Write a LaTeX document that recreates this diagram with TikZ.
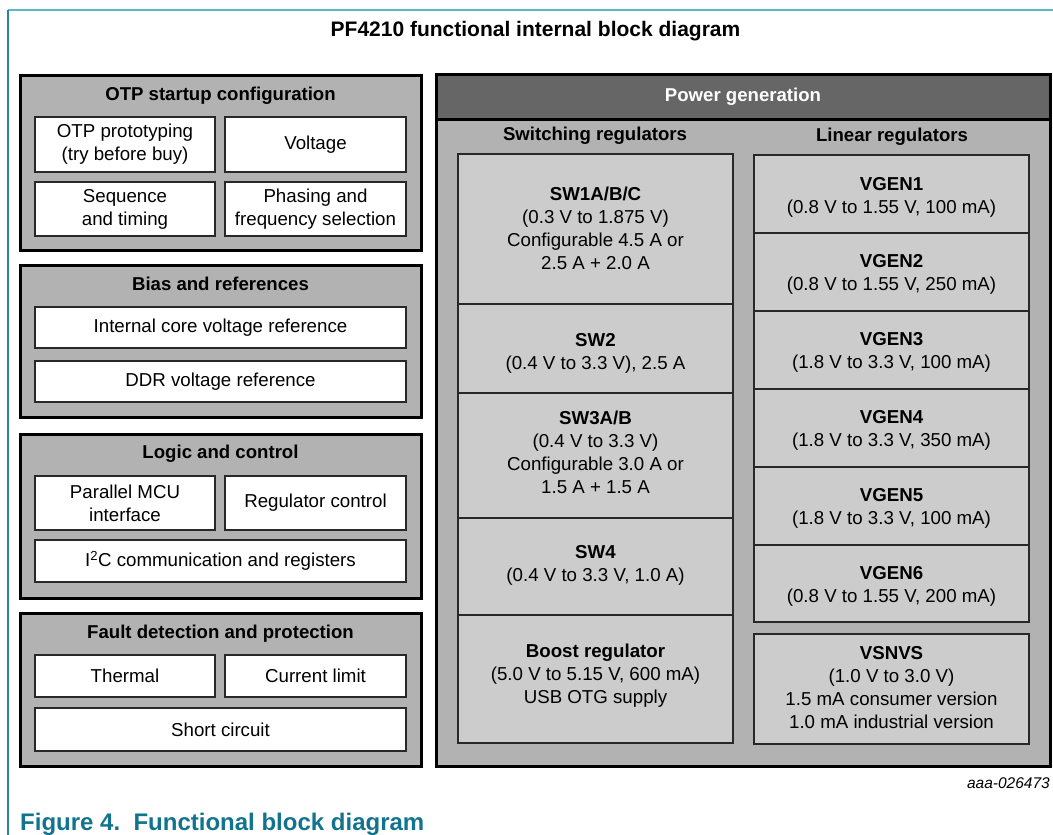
\documentclass[tikz,border=0pt]{standalone}
\usepackage{fontspec}
\setmainfont{Liberation Sans}
\definecolor{outergray}{RGB}{178,178,178}
\definecolor{innergray}{RGB}{204,204,204}
\definecolor{headgray}{RGB}{102,102,102}
\definecolor{edgegray}{RGB}{40,40,40}
\definecolor{tealtop}{RGB}{92,184,198}
\definecolor{tealleft}{RGB}{40,130,160}
\definecolor{captionteal}{RGB}{18,115,142}
\tikzset{
  txt/.style={font=\fontsize{18.7}{23}\selectfont, align=center, inner sep=0pt},
  ttl/.style={font=\fontsize{18.6}{23}\selectfont\bfseries, inner sep=0pt},
  grpbox/.style={draw=black, line width=3pt, fill=outergray, inner sep=0pt},
  wbox/.style={txt, draw=edgegray, line width=1.5pt, fill=white},
  gbox/.style={draw=edgegray, line width=1.5pt, fill=innergray, inner sep=0pt},
  headbox/.style={draw=black, line width=3pt, fill=headgray, inner sep=0pt,
    text=white, font=\fontsize{18.6}{23}\selectfont\bfseries},
}
\begin{document}
\begin{tikzpicture}[x=1pt,y=-1pt]
\useasboundingbox (0,0) rectangle (1053,835);
% frame lines
\coordinate (fc) at (8,10);
\coordinate (ftr) at (1053,10);
\coordinate (fbl) at (8,835);
\draw[tealtop, line width=1.2pt] (fc) -- (ftr);
\draw[tealleft, line width=1.2pt] (fc) -- (fbl);
\node[font=\fontsize{21}{25}\selectfont\bfseries, inner sep=0pt] (title) at (535.5,31) {PF4210 functional internal block diagram};

% OTP startup configuration
\node[grpbox, minimum width=401pt, minimum height=175pt] (otp) at (220.5,162.5) {};
\node[ttl] (otpt) at (220.5,96) {OTP startup configuration};
\node[wbox, minimum width=180pt, minimum height=55pt] (proto) at (125,144.5) {OTP prototyping\\(try before buy)};
\node[wbox, minimum width=181pt, minimum height=55pt] (volt) at (315.5,144.5) {Voltage};
\node[wbox, minimum width=180pt, minimum height=54pt] (seq) at (125,209) {Sequence\\and timing};
\node[wbox, minimum width=181pt, minimum height=54pt] (phase) at (315.5,209) {Phasing and\\frequency selection};

% Bias and references
\node[grpbox, minimum width=401pt, minimum height=152pt] (bias) at (220.5,341) {};
\node[ttl] (biast) at (220.5,284) {Bias and references};
\node[wbox, minimum width=371pt, minimum height=41pt] (icvr) at (220.5,327.5) {Internal core voltage reference};
\node[wbox, minimum width=371pt, minimum height=41pt] (ddr) at (220.5,381.5) {DDR voltage reference};

% Logic and control
\node[grpbox, minimum width=401pt, minimum height=164pt] (logic) at (220.5,516) {};
\node[ttl] (logict) at (220.5,453.5) {Logic and control};
\node[wbox, minimum width=180pt, minimum height=54pt] (pmcu) at (125,503) {Parallel MCU\\interface};
\node[wbox, minimum width=181pt, minimum height=54pt] (regc) at (315.5,503) {Regulator control};
\node[wbox, minimum width=371pt, minimum height=42pt] (i2c) at (220.5,561) {I\textsuperscript{2}C communication and registers};

% Fault detection and protection
\node[grpbox, minimum width=401pt, minimum height=153pt] (fault) at (220.5,689.5) {};
\node[ttl] (faultt) at (220.5,633.5) {Fault detection and protection};
\node[wbox, minimum width=180pt, minimum height=42pt] (therm) at (125,676) {Thermal};
\node[wbox, minimum width=181pt, minimum height=42pt] (curl) at (315.5,676) {Current limit};
\node[wbox, minimum width=371pt, minimum height=43pt] (short) at (220.5,729.5) {Short circuit};

% Power generation
\node[grpbox, minimum width=614pt, minimum height=692pt] (power) at (743,420) {};
\node[headbox, minimum width=614pt, minimum height=45pt] (powerh) at (743,96.5) {Power generation};
\node[ttl] (swt) at (595,135.5) {Switching regulators};
\node[ttl] (lint) at (892,136.5) {Linear regulators};

% switching regulators
\node[gbox, minimum width=275pt, minimum height=150pt] (sw1) at (595.5,229) {};
\node[gbox, minimum width=275pt, minimum height=89pt] (sw2) at (595.5,348.5) {};
\node[gbox, minimum width=275pt, minimum height=125pt] (sw3) at (595.5,455.5) {};
\node[gbox, minimum width=275pt, minimum height=97pt] (sw4) at (595.5,566.5) {};
\node[gbox, minimum width=275pt, minimum height=128pt] (boost) at (595.5,679) {};
\node[txt] (sw1t) at (595.5,228) {\textbf{SW1A/B/C}\\(0.3 V to 1.875 V)\\Configurable 4.5 A or\\2.5 A + 2.0 A};
\node[txt] (sw2t) at (595.5,353.5) {\textbf{SW2}\\(0.4 V to 3.3 V), 2.5 A};
\node[txt] (sw3t) at (595.5,452.5) {\textbf{SW3A/B}\\(0.4 V to 3.3 V)\\Configurable 3.0 A or\\1.5 A + 1.5 A};
\node[txt] (sw4t) at (595.5,565) {\textbf{SW4}\\(0.4 V to 3.3 V, 1.0 A)};
\node[txt] (boostt) at (595.5,676) {\textbf{Boost regulator}\\(5.0 V to 5.15 V, 600 mA)\\USB OTG supply};

% linear regulators
\node[gbox, minimum width=275pt, minimum height=78pt] (vg1) at (891.5,194) {};
\node[gbox, minimum width=275pt, minimum height=78pt] (vg2) at (891.5,272) {};
\node[gbox, minimum width=275pt, minimum height=78pt] (vg3) at (891.5,350) {};
\node[gbox, minimum width=275pt, minimum height=78pt] (vg4) at (891.5,428) {};
\node[gbox, minimum width=275pt, minimum height=78pt] (vg5) at (891.5,506) {};
\node[gbox, minimum width=275pt, minimum height=77pt] (vg6) at (891.5,583.5) {};
\node[gbox, minimum width=275pt, minimum height=110pt] (vsnvs) at (891.5,689) {};
\node[txt] (vg1t) at (891.5,197.5) {\textbf{VGEN1}\\(0.8 V to 1.55 V, 100 mA)};
\node[txt] (vg2t) at (891.5,274) {\textbf{VGEN2}\\(0.8 V to 1.55 V, 250 mA)};
\node[txt] (vg3t) at (891.5,352) {\textbf{VGEN3}\\(1.8 V to 3.3 V, 100 mA)};
\node[txt] (vg4t) at (891.5,430) {\textbf{VGEN4}\\(1.8 V to 3.3 V, 350 mA)};
\node[txt] (vg5t) at (891.5,508) {\textbf{VGEN5}\\(1.8 V to 3.3 V, 100 mA)};
\node[txt] (vg6t) at (891.5,586) {\textbf{VGEN6}\\(0.8 V to 1.55 V, 200 mA)};
\node[txt] (vsnvst) at (891.5,687.5) {\textbf{VSNVS}\\(1.0 V to 3.0 V)\\1.5 mA consumer version\\1.0 mA industrial version};

% footer
\node[font=\fontsize{15.5}{18}\selectfont\itshape, anchor=east, inner sep=0pt] (ref) at (1050,783) {aaa-026473};
\node[font=\fontsize{24}{28}\selectfont\bfseries, text=captionteal, anchor=base west, inner sep=0pt] (cap) at (20,830) {Figure 4.\ \ Functional block diagram};
\end{tikzpicture}
\end{document}
